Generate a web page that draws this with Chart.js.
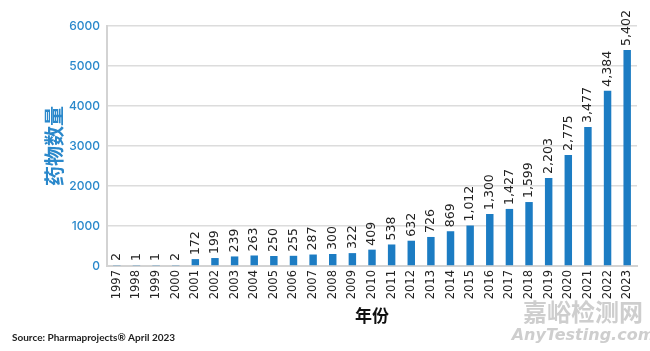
<!DOCTYPE html>
<html>
<head>
<meta charset="utf-8">
<script src="https://cdn.jsdelivr.net/npm/chart.js@4.4.0/dist/chart.umd.min.js"></script>
<style>
html,body{margin:0;padding:0;background:#fff;}
#wrap{width:650px;height:351px;position:relative;}
</style>
</head>
<body>
<div id="wrap"><canvas id="c" width="650" height="351"></canvas></div>
<script>
const years = ['1997','1998','1999','2000','2001','2002','2003','2004','2005','2006','2007','2008','2009','2010','2011','2012','2013','2014','2015','2016','2017','2018','2019','2020','2021','2022','2023'];
const drugCounts = [2,1,1,2,172,199,239,263,250,255,287,300,322,409,538,632,726,869,1012,1300,1427,1599,2203,2775,3477,4384,5402];
const yTicks = [0,1000,2000,3000,4000,5000,6000];
const yTitle = '药物数量';
const xTitle = '年份';
const sourceText = 'Source: Pharmaprojects® April 2023';
const watermark1 = '嘉峪检测网';
const watermark2 = 'AnyTesting.com';

const BLUE = '#1c7cc3';

const labelPlugin = {
  id: 'barLabels',
  afterDatasetsDraw(chart) {
    const ctx = chart.ctx;
    const meta = chart.getDatasetMeta(0);
    ctx.save();
    ctx.fillStyle = '#222';
    ctx.font = '12.5px "DejaVu Sans"';
    ctx.textAlign = 'left';
    ctx.textBaseline = 'middle';
    meta.data.forEach((bar, i) => {
      const v = drugCounts[i];
      ctx.save();
      ctx.translate(bar.x, Math.min(bar.y, chart.chartArea.bottom) - 4);
      ctx.rotate(-Math.PI / 2);
      ctx.fillText(v.toLocaleString('en-US'), 0, 0);
      ctx.restore();
    });
    ctx.restore();
  }
};

const extraText = {
  id: 'extraText',
  afterDraw(chart) {
    const ctx = chart.ctx;
    ctx.save();
    ctx.fillStyle = '#222';
    ctx.font = 'bold 10px "Lato"';
    ctx.textAlign = 'left';
    ctx.textBaseline = 'middle';
    ctx.fillText(sourceText, 12, 338);
    ctx.fillStyle = 'rgba(190,190,190,0.75)';
    ctx.font = 'bold 24px "Noto Sans CJK SC"';
    ctx.textAlign = 'center';
    ctx.fillText(watermark1, 583, 312);
    ctx.font = 'italic bold 16px "DejaVu Sans"';
    ctx.fillText(watermark2, 583, 336);
    ctx.restore();
  }
};

new Chart(document.getElementById('c'), {
  type: 'bar',
  data: {
    labels: years,
    datasets: [{
      data: drugCounts,
      backgroundColor: BLUE,
      borderWidth: 0,
      barPercentage: 0.38,
      categoryPercentage: 1.0,
      minBarLength: 1
    }]
  },
  options: {
    responsive: false,
    animation: false,
    devicePixelRatio: 1,
    layout: { padding: { left: 0, right: 13, top: 26, bottom: 25 } },
    plugins: { legend: { display: false }, tooltip: { enabled: false } },
    scales: {
      x: {
        grid: { display: false, drawTicks: false },
        border: { color: '#d3d3d3', width: 2 },
        ticks: {
          color: '#222',
          font: { family: 'DejaVu Sans', size: 11.5 },
          autoSkip: false,
          maxRotation: 90,
          minRotation: 90,
          padding: 4
        },
        title: {
          display: true,
          text: xTitle,
          color: '#111',
          font: { family: 'Noto Sans CJK SC', size: 17, weight: 'bold' },
          padding: { top: 0, bottom: 0 }
        },
        afterFit(scale) { scale.height = 60; }
      },
      y: {
        min: 0,
        max: 6000,
        afterBuildTicks(scale) { scale.ticks = yTicks.map(v => ({ value: v })); },
        grid: { color: '#dcdcdc', lineWidth: 1.5, drawTicks: false },
        border: { color: '#d3d3d3', width: 2 },
        ticks: {
          color: '#2a88cb',
          font: { family: 'Inter', size: 12, weight: '500' },
          padding: 7,
          callback: (v) => String(v)
        },
        title: {
          display: true,
          text: yTitle,
          color: '#2a88cb',
          font: { family: 'Noto Sans CJK SC', size: 20, weight: 'bold' },
          padding: { top: 42, bottom: 0 }
        },
        afterFit(scale) { scale.width = 107; }
      }
    }
  },
  plugins: [labelPlugin, extraText]
});
</script>
</body>
</html>
